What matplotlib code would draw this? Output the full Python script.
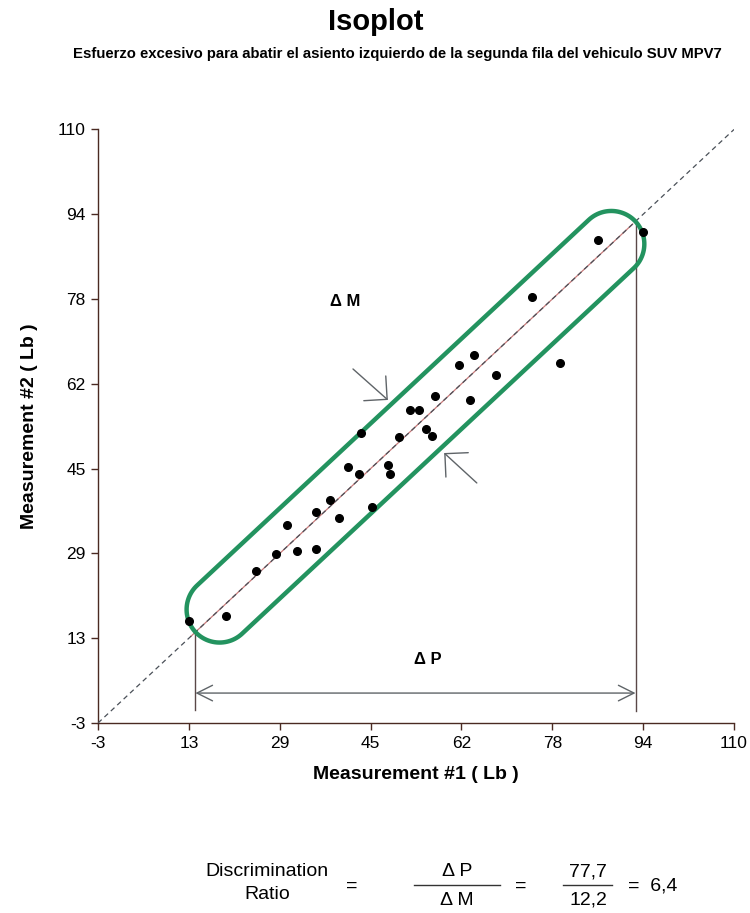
import numpy as np
import matplotlib
matplotlib.use("Agg")
import matplotlib.pyplot as plt
from matplotlib import font_manager
from matplotlib.patches import Polygon
from matplotlib.lines import Line2D

# data
meas1 = [13.2, 19.7, 25.1, 28.7, 30.5, 32.3, 35.7, 35.7, 38.2, 39.8,
         41.4, 43.4, 43.7, 45.7, 48.5, 48.9, 50.5, 52.4, 54.0, 55.2,
         56.3, 56.9, 63.1, 61.2, 63.8, 67.7, 74.1, 79.1, 85.8, 93.9]
meas2 = [16.4, 17.3, 25.9, 29.1, 34.7, 29.7, 37.1, 30.1, 39.5, 36.0,
         45.8, 44.5, 52.3, 38.1, 46.2, 44.5, 51.5, 56.5, 56.5, 52.9,
         51.7, 59.2, 58.5, 65.2, 67.0, 63.3, 78.1, 65.6, 89.0, 90.5]

axis_min, axis_max = -3, 110
tick_vals = np.linspace(axis_min, axis_max, 8)
tick_labels = [f"{v:.0f}" for v in tick_vals]

p_low, p_high = 14.3, 92.5          # delta P limits
capsule_ends = (18.6, 88.2)          # centres of the capsule end circles
delta_p, delta_m = "77,7", "12,2"
ratio = "6,4"

names = {f.name for f in font_manager.fontManager.ttflist}
FONT = "Liberation Sans"
NARROW = "Liberation Sans Narrow" if "Liberation Sans Narrow" in names else FONT
plt.rcParams["font.family"] = [FONT, "DejaVu Sans"]

GREEN = "#23935f"
SPINE = "#4a2a22"
GREY = "#5f6468"

fig = plt.figure(figsize=(7.5, 9.13), dpi=100)
ax = fig.add_axes([0.1307, 0.2081, 0.848, 0.6501])
ax.set_xlim(axis_min, axis_max)
ax.set_ylim(axis_min, axis_max)

for s in ["top", "right"]:
    ax.spines[s].set_visible(False)
for s in ["left", "bottom"]:
    ax.spines[s].set_color(SPINE)
    ax.spines[s].set_linewidth(1.0)
ax.set_xticks(tick_vals, tick_labels)
ax.set_yticks(tick_vals, tick_labels)
ax.tick_params(direction="out", length=5, width=1, color=SPINE,
               labelsize=12.5, pad=4)

# identity line
ax.plot([p_low - 0.8, p_high - 0.5], [p_low - 0.8, p_high - 0.5],
        color="#c87a7a", lw=0.9, zorder=2)
ax.plot([axis_min, axis_max], [axis_min, axis_max], color="#4a5058",
        lw=0.9, ls=(0, (4, 3)), zorder=3)

ax.plot(meas1, meas2, "o", color="black", ms=5.5, zorder=5)

# capsule drawn in pixel space so the ends are round
fig.canvas.draw()
tr = ax.transData
a = tr.transform((capsule_ends[0], capsule_ends[0]))
b = tr.transform((capsule_ends[1], capsule_ends[1]))
d = (b - a) / np.hypot(*(b - a))
ang = np.arctan2(d[1], d[0])
r = 33.0
t1 = np.linspace(ang - np.pi / 2, ang + np.pi / 2, 60)
t2 = np.linspace(ang + np.pi / 2, ang + 3 * np.pi / 2, 60)
pts = np.vstack([
    np.column_stack([b[0] + r * np.cos(t1), b[1] + r * np.sin(t1)]),
    np.column_stack([a[0] + r * np.cos(t2), a[1] + r * np.sin(t2)]),
])
pts = tr.inverted().transform(pts)
ax.add_patch(Polygon(pts, closed=True, fill=False, ec=GREEN, lw=3.2,
                     joinstyle="round", zorder=4))

# delta P construction
ax.plot([p_low, p_low], [p_low, -0.6], color="#5a4848", lw=1.0, zorder=3)
ax.plot([p_high, p_high], [p_high, -0.8], color="#5a4848", lw=1.0, zorder=3)
ax.annotate("", xy=(p_high, 2.7), xytext=(p_low, 2.7),
            arrowprops=dict(arrowstyle="<->,head_length=0.8,head_width=0.4",
                            color=GREY, lw=1.0, shrinkA=0, shrinkB=0,
                            mutation_scale=14))
ax.text(55.6, 9.0, "Δ P", ha="center", va="center", fontsize=12,
        fontweight="bold")

# delta M arrows
ax.annotate("", xy=(48.5, 58.5), xytext=(42.3, 64.4),
            arrowprops=dict(arrowstyle="->,head_length=0.85,head_width=0.85",
                            color=GREY, lw=1.0, shrinkA=0, shrinkB=0,
                            mutation_scale=14))
ax.annotate("", xy=(58.5, 48.4), xytext=(64.3, 42.7),
            arrowprops=dict(arrowstyle="->,head_length=0.85,head_width=0.85",
                            color=GREY, lw=1.0, shrinkA=0, shrinkB=0,
                            mutation_scale=14))
ax.text(40.9, 77.2, "Δ M", ha="center", va="center", fontsize=12,
        fontweight="bold")

ax.set_xlabel("Measurement #1 ( Lb )", fontsize=14, fontweight="bold",
              labelpad=11)
ax.set_ylabel("Measurement #2 ( Lb )", fontsize=14, fontweight="bold",
              labelpad=14)

# titles
W, H = 750.0, 913.0
def fx(px):
    return px / W
def fy(py):
    return 1 - py / H

fig.text(fx(376), fy(22), "Isoplot", ha="center", va="center",
         fontsize=21, fontweight="bold", family=[NARROW, "DejaVu Sans"])
fig.text(fx(397), fy(54),
         "Esfuerzo excesivo para abatir el asiento izquierdo de la segunda fila del vehiculo SUV MPV7",
         ha="center", va="center", fontsize=10.7, fontweight="bold",
         family=[NARROW, "DejaVu Sans"])

# discrimination ratio formula
fs = 14
fig.text(fx(267), fy(871), "Discrimination", ha="center", va="center", fontsize=fs)
fig.text(fx(267), fy(894), "Ratio", ha="center", va="center", fontsize=fs)
fig.text(fx(352), fy(886), "=", ha="center", va="center", fontsize=fs)
fig.text(fx(457), fy(872), "Δ P", ha="center", va="center", fontsize=fs)
fig.text(fx(457), fy(900), "Δ M", ha="center", va="center", fontsize=fs)
fig.add_artist(Line2D([fx(414), fx(500)], [fy(885), fy(885)], color="#333333", lw=1.0))
fig.text(fx(521), fy(886), "=", ha="center", va="center", fontsize=fs)
fig.text(fx(588), fy(872), delta_p, ha="center", va="center", fontsize=fs)
fig.text(fx(588), fy(900), delta_m, ha="center", va="center", fontsize=fs)
fig.add_artist(Line2D([fx(563), fx(612)], [fy(885), fy(885)], color="#333333", lw=1.0))
fig.text(fx(653), fy(886), "=  " + ratio, ha="center", va="center", fontsize=fs)

fig.savefig("out.png", dpi=100)
